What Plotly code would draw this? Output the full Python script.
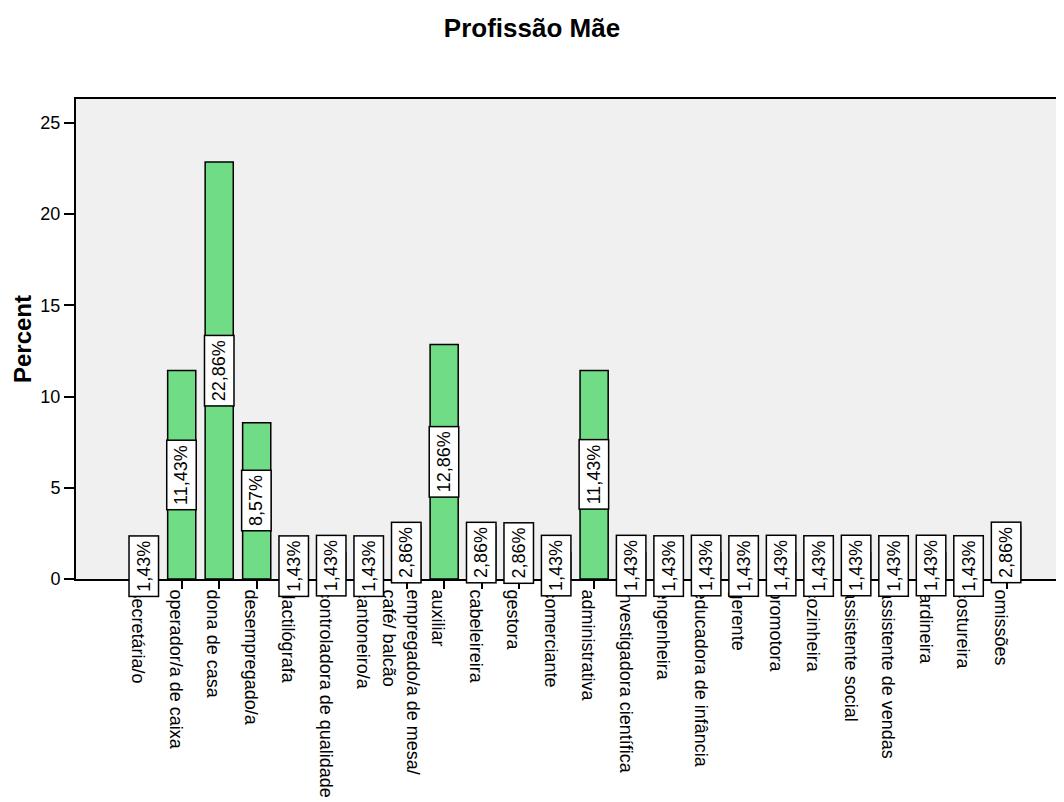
import plotly.graph_objects as go

categories = [
    "secretária/o", "operador/a de caixa", "dona de casa", "desempregado/a",
    "dactilógrafa", "controladora de qualidade", "cantoneiro/a",
    "empregado/a de mesa/<br>café/ balcão", "auxiliar", "cabeleireira",
    "gestora", "comerciante", "administrativa", "investigadora científica",
    "engenheira", "educadora de infância", "gerente", "promotora",
    "cozinheira", "assistente social", "assistente de vendas", "jardineira",
    "costureira", "omissões",
]
percent = [
    1.43, 11.43, 22.86, 8.57, 1.43, 1.43, 1.43, 2.86, 12.86, 2.86, 2.86, 1.43,
    11.43, 1.43, 1.43, 1.43, 1.43, 1.43, 1.43, 1.43, 1.43, 1.43, 1.43, 2.86,
]
y_ticks = [0, 5, 10, 15, 20, 25]

FONT = "Arial, Liberation Sans, sans-serif"

fig = go.Figure()
fig.add_trace(go.Bar(
    x=list(range(len(categories))),
    y=percent,
    width=0.75,
    marker=dict(color="#70dd86", line=dict(color="black", width=1.5)),
    hoverinfo="skip",
))

# value labels in white boxes, centred on the bar's mid height
for i, v in enumerate(percent):
    fig.add_annotation(
        x=i, y=v / 2, xref="x", yref="y",
        text=f"{v:.2f}%".replace(".", ","),
        textangle=-90, showarrow=False,
        font=dict(family=FONT, size=18, color="black"),
        bgcolor="white", bordercolor="black", borderwidth=1.5, borderpad=4,
    )

# page body has an 8px margin, figure starts at (8, 8)
fig.update_layout(
    width=1048, height=794,
    margin=dict(l=68, r=0, t=91, b=223),
    paper_bgcolor="white", plot_bgcolor="#f0f0f0",
    showlegend=False,
    font=dict(family=FONT, color="black"),
    title=dict(text="<b>Profissão Mãe</b>", x=0.5, xanchor="center",
               y=1 - 20 / 794, yanchor="middle", yref="container",
               font=dict(size=26, family=FONT, color="black")),
)

fig.update_xaxes(
    range=[-1.82, 24.32], automargin=False,
    tickmode="array", tickvals=list(range(len(categories))), ticktext=categories,
    tickangle=90, ticks="outside", ticklen=8, tickwidth=2, tickcolor="black",
    tickfont=dict(size=18, family=FONT, color="black"),
    ticklabelshift=-6, ticklabelstandoff=-3,
    showline=True, linecolor="black", linewidth=2, mirror=True,
    showgrid=False, zeroline=False,
)
fig.update_yaxes(
    range=[0, 26.31], automargin=False,
    tickmode="array", tickvals=y_ticks,
    ticks="outside", ticklen=10, tickwidth=2, tickcolor="black",
    tickfont=dict(size=18, family=FONT, color="black"),
    showline=True, linecolor="black", linewidth=2,
    showgrid=False, zeroline=False,
    title=dict(text="<b>Percent</b>", font=dict(size=24, family=FONT, color="black"),
               standoff=2),
)

fig.write_html("out.html")
